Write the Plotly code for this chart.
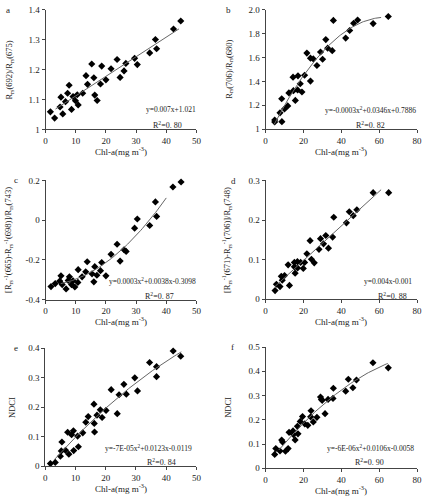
import numpy as np
import plotly.graph_objects as go

# ---------------- data ----------------
a_x = [1.6, 3.0, 5.1, 4.8, 5.7, 6.6, 7.3, 7.8, 8.6, 9.1, 9.9, 10.5, 10.8, 12.3, 13.4, 13.9, 15.3, 16.0,
       16.3, 17.1, 18.2, 18.6, 20.0, 21.7, 23.7, 24.7, 26.0, 26.6, 29.5, 30.4, 34.5, 36.4, 36.8, 42.4, 44.8]
a_y = [1.059, 1.038, 1.108, 1.075, 1.052, 1.093, 1.121, 1.148, 1.067, 1.110, 1.096, 1.116, 1.082, 1.121,
       1.180, 1.151, 1.219, 1.173, 1.115, 1.097, 1.152, 1.212, 1.166, 1.203, 1.234, 1.174, 1.196, 1.221,
       1.238, 1.217, 1.256, 1.301, 1.270, 1.336, 1.363]

b_x = [4.8, 4.8, 7.6, 8.5, 8.6, 10.0, 11.7, 12.3, 14.5, 14.7, 15.7, 17.1, 16.9, 18.3, 19.2, 20.6, 21.8,
       23.7, 23.7, 25.2, 27.1, 29.0, 30.1, 31.8, 32.8, 35.2, 35.8, 42.3, 44.4, 46.5, 48.6, 56.8, 64.8]
b_y = [1.077, 1.060, 1.137, 1.255, 1.063, 1.170, 1.195, 1.304, 1.436, 1.323, 1.241, 1.447, 1.329, 1.381,
       1.312, 1.452, 1.638, 1.595, 1.403, 1.589, 1.534, 1.647, 1.586, 1.751, 1.679, 1.658, 1.912, 1.764,
       1.827, 1.888, 1.915, 1.885, 1.945]

c_x = [1.8, 3.2, 4.7, 5.1, 5.5, 6.8, 7.5, 7.9, 8.6, 9.1, 9.7, 10.7, 10.8, 12.1, 13.3, 13.8, 15.4, 16.0,
       16.3, 17.0, 18.2, 18.6, 20.0, 21.7, 23.7, 24.7, 26.0, 26.7, 29.5, 30.4, 34.5, 36.4, 36.8, 42.2, 44.9]
c_y = [-0.334, -0.319, -0.306, -0.280, -0.324, -0.346, -0.303, -0.285, -0.324, -0.305, -0.336, -0.313,
       -0.249, -0.285, -0.260, -0.209, -0.270, -0.310, -0.234, -0.277, -0.254, -0.213, -0.280, -0.172,
       -0.121, -0.206, -0.149, -0.157, -0.040, 0.006, -0.027, 0.092, 0.019, 0.167, 0.192]

d_x = [5.0, 5.7, 7.6, 8.3, 8.8, 10.0, 11.9, 12.6, 15.2, 15.2, 15.6, 16.8, 16.9, 18.5, 19.9, 20.6, 21.8,
       23.5, 24.2, 25.7, 28.2, 29.0, 30.6, 31.8, 33.2, 35.4, 36.0, 42.7, 44.2, 46.3, 48.2, 56.8, 65.0]
d_y = [0.022, 0.038, 0.032, 0.058, 0.048, 0.060, 0.087, 0.035, 0.082, 0.093, 0.066, 0.095, 0.079, 0.093,
       0.078, 0.093, 0.115, 0.148, 0.101, 0.092, 0.126, 0.153, 0.140, 0.161, 0.129, 0.157, 0.207, 0.193,
       0.221, 0.211, 0.226, 0.269, 0.269]

e_x = [1.7, 3.3, 5.0, 5.3, 5.5, 6.7, 7.4, 7.8, 8.7, 9.3, 9.4, 10.7, 10.95, 12.4, 13.4, 14.2, 16.1, 16.2,
       16.3, 17.1, 18.2, 18.8, 20.1, 21.8, 23.8, 24.4, 26.0, 26.8, 29.6, 30.5, 34.5, 36.8, 36.8, 42.3, 44.8]
e_y = [0.009, 0.013, 0.034, 0.052, 0.082, 0.054, 0.115, 0.041, 0.107, 0.120, 0.053, 0.102, 0.066, 0.113,
       0.149, 0.168, 0.210, 0.145, 0.116, 0.173, 0.191, 0.165, 0.189, 0.259, 0.178, 0.242, 0.277, 0.244,
       0.299, 0.255, 0.351, 0.337, 0.303, 0.390, 0.372]

f_x = [4.8, 5.4, 7.6, 8.5, 9.0, 10.5, 11.9, 12.4, 14.5, 14.7, 15.6, 16.8, 17.1, 18.3, 19.5, 20.7, 22.3,
       24.0, 23.8, 25.2, 27.1, 29.0, 29.5, 29.9, 31.4, 33.0, 35.8, 35.6, 42.3, 43.7, 46.1, 48.0, 56.7, 64.8]
f_y = [0.057, 0.081, 0.071, 0.116, 0.108, 0.070, 0.081, 0.148, 0.154, 0.139, 0.117, 0.173, 0.142, 0.193,
       0.213, 0.183, 0.177, 0.237, 0.212, 0.191, 0.210, 0.294, 0.284, 0.280, 0.225, 0.284, 0.330, 0.288,
       0.318, 0.367, 0.332, 0.364, 0.435, 0.414]

letters = ["a", "b", "c", "d", "e", "f"]
y_titles = [
    "R<sub>rs</sub>(692)/R<sub>rs</sub>(675)",
    "R<sub>rs</sub>(706)/R<sub>rs</sub>(680)",
    "[R<sub>rs</sub><sup>-1</sup>(665)-R<sub>rs</sub><sup>-1</sup>(698)]/R<sub>rs</sub>(743)",
    "[R<sub>rs</sub><sup>-1</sup>(671)-R<sub>rs</sub><sup>-1</sup>(706)]/R<sub>rs</sub>(748)",
    "NDCI",
    "NDCI",
]
equations = [
    "y=0.007x+1.021",
    "y=-0.0003x<sup>2</sup>+0.0346x+0.7886",
    "y=0.0003x<sup>2</sup>+0.0038x-0.3098",
    "y=0.004x-0.001",
    "y=-7E-05x<sup>2</sup>+0.0123x-0.0119",
    "y=-6E-06x<sup>2</sup>+0.0106x-0.0058",
]
r2_labels = ["R<sup>2</sup>=0. 80", "R<sup>2</sup>=0. 82", "R<sup>2</sup>=0. 87",
             "R<sup>2</sup>=0. 88", "R<sup>2</sup>=0. 84", "R<sup>2</sup>=0. 90"]
fit_degree = [1, 2, 2, 1, 2, 2]
fit_range = [(3.3, 44.2), (4.5, 61.0), (5.0, 40.0), (5.0, 61.0), (3.0, 45.0), (7.0, 64.5)]
x_ranges = [(0, 50), (0, 80), (0, 50), (0, 80), (0, 50), (0, 80)]
x_ticks = [[0, 10, 20, 30, 40, 50], [0, 20, 40, 60, 80]] * 3
y_tickvals = [[1, 1.1, 1.2, 1.3, 1.4], [1, 1.2, 1.4, 1.6, 1.8, 2.0], [-0.4, -0.2, 0, 0.2],
              [0, 0.1, 0.2, 0.3], [0, 0.1, 0.2, 0.3, 0.4], [0, 0.1, 0.2, 0.3, 0.4, 0.5]]
y_ticktext = [["1", "1.1", "1.2", "1.3", "1.4"], ["1", "1.2", "1.4", "1.6", "1.8", "2.0"],
              ["-0.4", "-0.2", "0", "0.2"], ["0", "0.1", "0.2", "0.3"],
              ["0", "0.1", "0.2", "0.3", "0.4"], ["0", "0.1", "0.2", "0.3", "0.4", "0.5"]]

xs = [a_x, b_x, c_x, d_x, e_x, f_x]
ys = [a_y, b_y, c_y, d_y, e_y, f_y]

# ---------------- layout geometry (pixels) ----------------
W, H = 426, 500
boxes = [(44.3, 197.7, 5, 127), (268, 422, 5, 126.7),
         (44.3, 197.7, 179, 300.7), (268, 422, 179, 300.3),
         (44, 197.7, 350, 470.7), (268, 422, 349, 472.7)]
letter_pos = [(6, 5), (230, 5), (14, 179), (235, 180), (14, 350), (234, 349)]
ytitle_x = [8, 231, 6, 229, 10, 229]
eq_right = [(199, 107), (423, 107), (199, 281.7), (419, 281.7), (195, 452), (421, 452)]
r2_pos = [(168, 122), (375, 122), (160, 297), (397, 296.7), (161.7, 466), (374, 466.7)]

FONT = "Liberation Serif, Times New Roman, serif"
AX = "#444444"
TXT = "#222222"

fig = go.Figure()
annotations = []
layout = {}

for i in range(6):
    n = "" if i == 0 else str(i + 1)
    xa, ya = "x" + n, "y" + n
    l, r, t, b = boxes[i]
    layout["xaxis" + n] = dict(
        domain=[l / W, r / W], anchor=ya, range=list(x_ranges[i]), tickvals=x_ticks[i],
        showgrid=False, zeroline=False, showline=True, linecolor=AX, linewidth=1,
        ticks="outside", ticklen=3, tickcolor=AX, tickfont=dict(family=FONT, size=9, color=TXT),
    )
    layout["yaxis" + n] = dict(
        domain=[1 - b / H, 1 - t / H], anchor=xa, range=[y_tickvals[i][0], y_tickvals[i][-1]],
        tickvals=y_tickvals[i], ticktext=y_ticktext[i],
        showgrid=False, zeroline=False, showline=True, linecolor=AX, linewidth=1,
        ticks="outside", ticklen=3, tickcolor=AX, tickfont=dict(family=FONT, size=9, color=TXT),
    )
    fig.add_trace(go.Scatter(x=xs[i], y=ys[i], mode="markers", xaxis=xa, yaxis=ya,
                             marker=dict(symbol="diamond", size=5.5, color="black"),
                             showlegend=False, cliponaxis=False))
    coef = np.polyfit(xs[i], ys[i], fit_degree[i])
    fx = np.linspace(fit_range[i][0], fit_range[i][1], 80)
    fy = np.polyval(coef, fx)
    fig.add_trace(go.Scatter(x=fx, y=fy, mode="lines", xaxis=xa, yaxis=ya,
                             line=dict(color="#666666", width=1), showlegend=False))

    annotations.append(dict(text=letters[i], x=letter_pos[i][0] / W, y=1 - letter_pos[i][1] / H,
                            xref="paper", yref="paper", showarrow=False, xanchor="center", yanchor="middle",
                            font=dict(family=FONT, size=9, color=TXT)))
    annotations.append(dict(text=y_titles[i], x=ytitle_x[i] / W, y=1 - (t + b) / 2 / H,
                            xref="paper", yref="paper", showarrow=False, textangle=-90,
                            xanchor="center", yanchor="middle",
                            font=dict(family=FONT, size=8.5, color=TXT)))
    annotations.append(dict(text="Chl-a(mg m<sup>-3</sup>)", x=(l + r) / 2 / W, y=1 - (b + 22) / H,
                            xref="paper", yref="paper", showarrow=False, xanchor="center", yanchor="middle",
                            font=dict(family=FONT, size=9, color=TXT)))
    annotations.append(dict(text=equations[i], x=eq_right[i][0] / W, y=1 - eq_right[i][1] / H,
                            xref="paper", yref="paper", showarrow=False, xanchor="right", yanchor="middle",
                            font=dict(family=FONT, size=7.5, color=TXT)))
    annotations.append(dict(text=r2_labels[i], x=r2_pos[i][0] / W, y=1 - r2_pos[i][1] / H,
                            xref="paper", yref="paper", showarrow=False, xanchor="center", yanchor="middle",
                            font=dict(family=FONT, size=8, color=TXT)))

fig.update_layout(width=W, height=H, margin=dict(l=0, r=0, t=0, b=0),
                  paper_bgcolor="white", plot_bgcolor="white", hovermode=False,
                  annotations=annotations, **layout)

fig.write_html("out.html", config={"displayModeBar": False, "staticPlot": True},
               post_script="document.body.style.margin='0';document.body.style.overflow='hidden';")
